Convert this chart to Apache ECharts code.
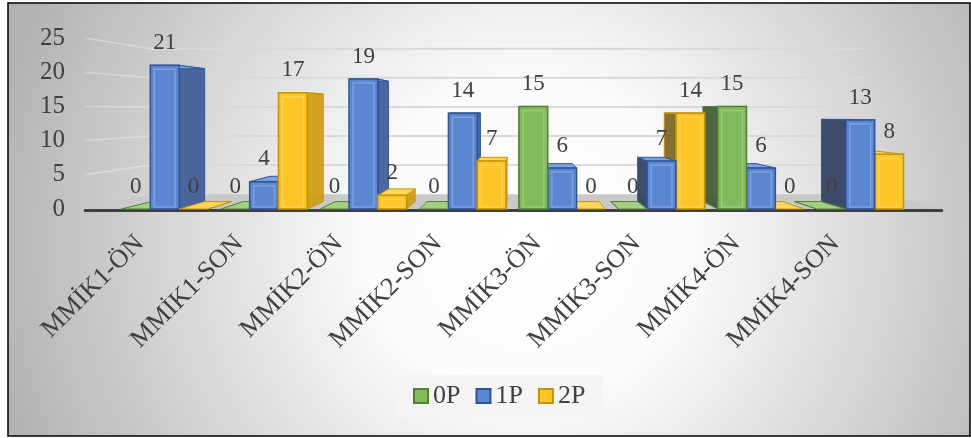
<!DOCTYPE html>
<html>
<head>
<meta charset="utf-8">
<script src="https://cdn.jsdelivr.net/npm/echarts@6/dist/echarts.min.js"></script>
<style>
  html, body { margin: 0; padding: 0; background: #ffffff; }
  #chart { width: 971px; height: 438px; }
</style>
</head>
<body>
<div id="chart"></div>
<script>
// Categories (pre/post measurement per group)
const categories = ['MMİK1-ÖN', 'MMİK1-SON', 'MMİK2-ÖN', 'MMİK2-SON', 'MMİK3-ÖN', 'MMİK3-SON', 'MMİK4-ÖN', 'MMİK4-SON'];
const seriesNames = ['0P', '1P', '2P'];
const values0P = [0, 0, 0, 0, 15, 0, 15, 0];
const values1P = [21, 4, 19, 14, 6, 7, 6, 13];
const values2P = [0, 17, 2, 7, 0, 14, 0, 8];
const yTicks = [0, 5, 10, 15, 20, 25];

const FONT = 'Liberation Serif';
const TEXT = '#404040';

// Simple perspective: points pushed "back" shrink toward a vanishing point
const VX = 520, VY = 110;
const BAR_DEPTH = 0.925;   // scale of a bar's back face
const WALL_DEPTH = 0.85;   // scale of the back wall
function back(x, y, s) { return [VX + (x - VX) * s, VY + (y - VY) * s]; }

const palette = [
  { front: '#82bb5a', top: '#a2d07e', sideR: '#5d8f3c', sideL: '#3e5a30', stroke: '#548235' },
  { front: '#5b87d2', top: '#7ea2e0', sideR: '#3d5b97', sideL: '#2f3f63', stroke: '#2f5597' },
  { front: '#ffc425', top: '#ffd75e', sideR: '#cf9d12', sideL: '#7a6320', stroke: '#c39300' }
];
const seriesValues = [values0P, values1P, values2P];

function barRenderer(k) {
  const c = palette[k];
  return function (params, api) {
    const cat = api.value(0), val = api.value(1);
    const base = api.coord([cat, 0]);
    const top = api.coord([cat, val]);
    const band = api.size([1, 0])[0];
    const w = band * 0.29;
    const x0 = base[0] + (k - 1.5) * w, x1 = x0 + w;
    const yb = base[1], yt = top[1];
    const xc = (x0 + x1) / 2;
    const b00 = back(x0, yb, BAR_DEPTH), b10 = back(x1, yb, BAR_DEPTH);
    const b01 = back(x0, yt, BAR_DEPTH), b11 = back(x1, yt, BAR_DEPTH);
    const z = 1000 - Math.abs(xc - VX);
    const children = [];
    if (xc < VX) {
      children.push({ type: 'polygon', z2: z, shape: { points: [[x1, yt], [x1, yb], b10, b11] },
        style: { fill: c.sideR, stroke: c.stroke, lineWidth: 1, opacity: 0.92 } });
    } else {
      children.push({ type: 'polygon', z2: z, shape: { points: [[x0, yt], [x0, yb], b00, b01] },
        style: { fill: c.sideL, stroke: c.stroke, lineWidth: 1, opacity: 0.92 } });
    }
    children.push({ type: 'polygon', z2: z + 0.1, shape: { points: [[x0, yt], [x1, yt], b11, b01] },
      style: { fill: c.top, stroke: c.stroke, lineWidth: 1 } });
    if (val > 0) {
      children.push({ type: 'rect', z2: z + 0.2, shape: { x: x0, y: yt, width: w, height: yb - yt },
        style: { fill: c.front, stroke: c.stroke, lineWidth: 1.5 } });
      // soft bevel highlight inside the front face
      if (yb - yt > 10) {
        children.push({ type: 'rect', z2: z + 0.3, shape: { x: x0 + 4, y: yt + 4, width: w - 8, height: yb - yt - 6 },
          style: { fill: null, stroke: 'rgba(255,255,255,0.22)', lineWidth: 1.5 } });
      }
    }
    children.push({ type: 'text', z2: 5000, style: {
      text: String(val), x: xc, y: yt - 11, align: 'center', verticalAlign: 'bottom',
      fill: TEXT, fontFamily: FONT, fontSize: 23 } });
    return { type: 'group', children: children };
  };
}

// Floor, back-wall gridlines and side-wall guides
function wallRenderer(params, api) {
  const v = api.value(0);
  const band = api.size([1, 0])[0];
  const first = api.coord([0, v]);
  const last = api.coord([categories.length - 1, v]);
  const xL = first[0] - band * 0.5 - band * 0.3;
  const xR = last[0] + band * 0.5 + band * (v === 0 ? 0.4 : 0.15);
  const y = first[1];
  const bl = back(xL, y, WALL_DEPTH), br = back(xR, y, WALL_DEPTH);
  const children = [];
  if (v === 0) {
    children.push({ type: 'polygon', z2: 1, shape: { points: [[xL, y], [xR, y], br, bl] },
      style: { fill: '#c9c9c9', stroke: null } });
    children.push({ type: 'line', z2: 2, shape: { x1: xL, y1: y + 1.5, x2: xR - 8, y2: y + 1.5 },
      style: { stroke: '#3f3f3f', lineWidth: 3, lineCap: 'round' } });
  } else {
    children.push({ type: 'line', z2: 1, shape: { x1: bl[0], y1: bl[1], x2: br[0], y2: br[1] },
      style: { stroke: '#d9d9d9', lineWidth: 2 } });
    children.push({ type: 'line', z2: 1, shape: { x1: xL, y1: y, x2: bl[0], y2: bl[1] },
      style: { stroke: 'rgba(255,255,255,0.3)', lineWidth: 1.5 } });
  }
  return { type: 'group', children: children };
}

const chart = echarts.init(document.getElementById('chart'), null, { renderer: 'canvas' });

const series = [{
  type: 'custom',
  name: 'walls',
  silent: true,
  renderItem: wallRenderer,
  data: yTicks.map(v => [v]),
  encode: { y: 0 },
  clip: false
}];
seriesNames.forEach((name, k) => {
  series.push({
    type: 'custom',
    name: name,
    renderItem: barRenderer(k),
    itemStyle: { color: palette[k].front, borderColor: palette[k].stroke, borderWidth: 1.5 },
    encode: { x: 0, y: 1 },
    data: seriesValues[k].map((v, i) => [i, v]),
    clip: false
  });
});

chart.setOption({
  animation: false,
  graphic: [{
    type: 'rect', z: -10,
    shape: { x: 8, y: 3, width: 962, height: 433 },
    style: {
      fill: {
        type: 'radial', x: 0.54, y: 0.55, r: 1.25,
        colorStops: [
          { offset: 0, color: '#ffffff' },
          { offset: 0.3, color: '#fbfbfb' },
          { offset: 1, color: '#b3b3b3' }
        ]
      },
      stroke: '#000000', lineWidth: 1.5
    }
  }],
  grid: { left: 115, right: 61, top: 38, bottom: 229, containLabel: false },
  legend: {
    data: seriesNames,
    left: 396, top: 375,
    padding: [8, 17, 8, 17],
    backgroundColor: 'rgba(244,244,244,0.9)',
    icon: 'rect', itemWidth: 14, itemHeight: 14, itemGap: 15,
    textStyle: { fontFamily: FONT, fontSize: 26, color: TEXT }
  },
  xAxis: {
    type: 'category',
    data: categories,
    axisLine: { show: false },
    axisTick: { show: false },
    splitLine: { show: false },
    axisLabel: {
      interval: 0, rotate: 45, margin: 6,
      padding: [0, 35, 0, 0],
      fontFamily: FONT, fontSize: 26, color: TEXT
    }
  },
  yAxis: {
    type: 'value', min: 0, max: 25, interval: 5,
    axisLine: { show: false },
    axisTick: { show: false },
    splitLine: { show: false },
    axisLabel: { margin: 50, fontFamily: FONT, fontSize: 25, color: TEXT }
  },
  series: series
});
</script>
</body>
</html>
